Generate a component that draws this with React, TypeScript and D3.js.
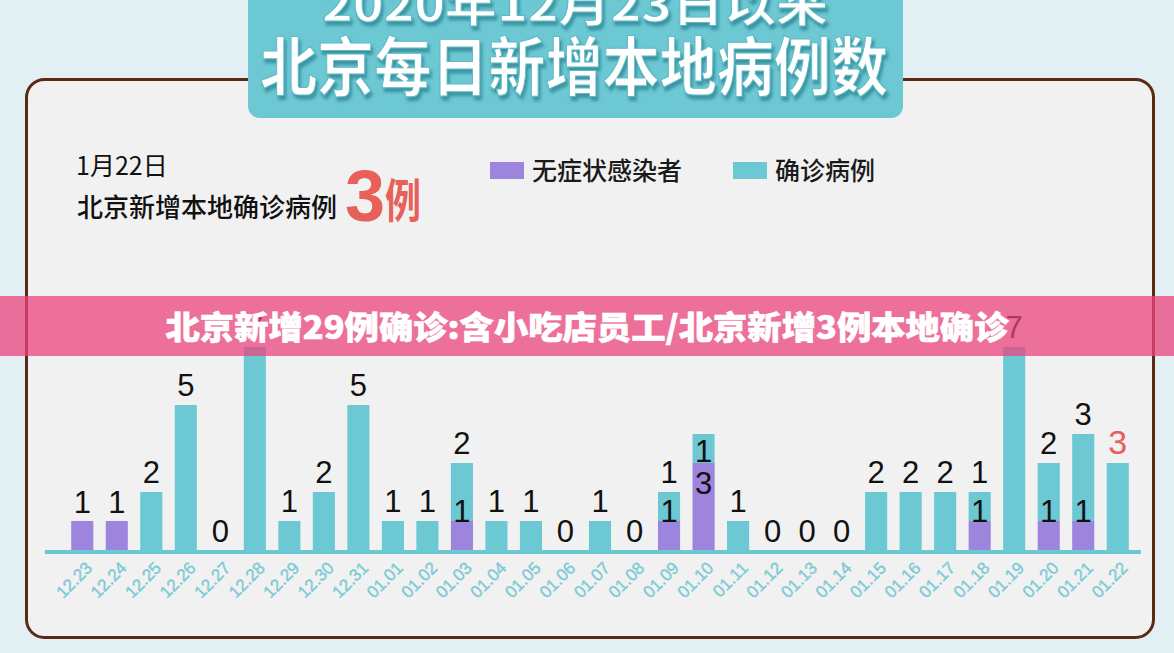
import { useEffect, useRef } from 'react'
import * as d3 from 'd3'

const dates = [
  '12.23', '12.24', '12.25', '12.26', '12.27', '12.28', '12.29', '12.30', '12.31',
  '01.01', '01.02', '01.03', '01.04', '01.05', '01.06', '01.07', '01.08', '01.09',
  '01.10', '01.11', '01.12', '01.13', '01.14', '01.15', '01.16', '01.17', '01.18',
  '01.19', '01.20', '01.21', '01.22'
]
// 无症状感染者
const asymptomatic = [1, 1, 0, 0, 0, 0, 0, 0, 0, 0, 0, 1, 0, 0, 0, 0, 0, 1, 3, 0, 0, 0, 0, 0, 0, 0, 1, 0, 1, 1, 0]
// 确诊病例
const confirmed = [0, 0, 2, 5, 0, 7, 1, 2, 5, 1, 1, 2, 1, 1, 0, 1, 0, 1, 1, 1, 0, 0, 0, 2, 2, 2, 1, 7, 2, 3, 3]

const legendItems = ['无症状感染者', '确诊病例']
const titleTop = '2020年12月23日以来'
const titleMain = '北京每日新增本地病例数'
const bannerText = '北京新增29例确诊:含小吃店员工/北京新增3例本地确诊'

const W = 1174
const H = 653
const TEAL = '#6cc8d3'
const PURPLE = '#9d84dc'
const RED = '#e8605a'
const CJK = '"Noto Sans CJK SC", "Noto Sans", sans-serif'
const NUM = '"Liberation Sans", Arial, sans-serif'

export default function App() {
  const svgRef = useRef<SVGSVGElement>(null)

  useEffect(() => {
    if (!svgRef.current) return
    const svg = d3.select(svgRef.current)
    svg.selectAll('*').remove()

    const defs = svg.append('defs')
    const f = defs.append('filter').attr('id', 'tshadow')
      .attr('x', '-10%').attr('y', '-10%').attr('width', '120%').attr('height', '130%')
    f.append('feDropShadow')
      .attr('dx', 2).attr('dy', 4).attr('stdDeviation', 1.5)
      .attr('flood-color', '#3a92a0').attr('flood-opacity', 0.95)

    // background
    svg.append('rect').attr('width', W).attr('height', H).style('fill', '#e2f0f4')

    // card
    svg.append('rect')
      .attr('x', 26.5).attr('y', 79.5)
      .attr('width', 1127).attr('height', 558)
      .attr('rx', 18)
      .style('fill', '#f1f1f1')
      .style('stroke', '#5b2a17')
      .style('stroke-width', 3)

    // title box
    svg.append('rect')
      .attr('x', 248).attr('y', -20)
      .attr('width', 655).attr('height', 138)
      .attr('rx', 12)
      .style('fill', TEAL)

    svg.append('text')
      .attr('x', 575).attr('y', 21)
      .attr('text-anchor', 'middle')
      .attr('textLength', 506).attr('lengthAdjust', 'spacingAndGlyphs')
      .attr('filter', 'url(#tshadow)')
      .style('fill', '#fff')
      .style('stroke', '#5cb9c5').style('stroke-width', 1)
      .style('font-family', CJK).style('font-weight', 700)
      .style('font-size', '46px')
      .text(titleTop)

    svg.append('text')
      .attr('x', 574).attr('y', 90)
      .attr('text-anchor', 'middle')
      .attr('textLength', 628).attr('lengthAdjust', 'spacingAndGlyphs')
      .attr('filter', 'url(#tshadow)')
      .style('fill', '#fff')
      .style('stroke', '#5cb9c5').style('stroke-width', 1)
      .style('font-family', CJK).style('font-weight', 700)
      .style('font-size', '64px')
      .text(titleMain)

    // headline
    svg.append('text')
      .attr('x', 76).attr('y', 175)
      .style('fill', '#111').style('font-family', CJK).style('font-size', '25px')
      .text('1月22日')
    svg.append('text')
      .attr('x', 77).attr('y', 217)
      .attr('textLength', 260).attr('lengthAdjust', 'spacingAndGlyphs')
      .style('fill', '#111').style('font-family', CJK).style('font-size', '26px')
      .style('font-weight', 500)
      .text('北京新增本地确诊病例')
    svg.append('text')
      .attr('x', 345).attr('y', 221)
      .style('fill', RED).style('font-family', NUM).style('font-size', '72px')
      .style('font-weight', 700)
      .text('3')
    svg.append('text')
      .attr('x', 385).attr('y', 217)
      .attr('textLength', 36).attr('lengthAdjust', 'spacingAndGlyphs')
      .style('fill', RED).style('font-family', CJK).style('font-size', '46px')
      .style('font-weight', 700)
      .text('例')

    // legend
    const legendColors = [PURPLE, TEAL]
    const legendX = [490, 733]
    legendItems.forEach((name, i) => {
      svg.append('rect')
        .attr('x', legendX[i]).attr('y', 162)
        .attr('width', 34).attr('height', 17)
        .style('fill', legendColors[i])
      svg.append('text')
        .attr('x', legendX[i] + 42).attr('y', 180)
        .style('fill', '#1a1a1a').style('font-family', CJK).style('font-size', '25px')
        .style('font-weight', 500)
        .text(name)
    })

    // chart
    const x = d3.scaleBand<string>()
      .domain(dates)
      .range([65, 1135])
      .paddingInner(0.36)
      .paddingOuter(0.18)
    const y = d3.scaleLinear()
      .domain([0, 7])
      .range([550, 347])

    const g = svg.append('g')
    const data = dates.map((d, i) => ({ date: d, a: asymptomatic[i], c: confirmed[i], i }))

    g.selectAll('rect.asym')
      .data(data.filter(d => d.a > 0))
      .join('rect')
      .attr('class', 'asym')
      .attr('x', d => x(d.date)!)
      .attr('width', x.bandwidth())
      .attr('y', d => y(d.a))
      .attr('height', d => y(0) - y(d.a))
      .style('fill', PURPLE)

    g.selectAll('rect.conf')
      .data(data.filter(d => d.c > 0))
      .join('rect')
      .attr('class', 'conf')
      .attr('x', d => x(d.date)!)
      .attr('width', x.bandwidth())
      .attr('y', d => y(d.a + d.c))
      .attr('height', d => y(d.a) - y(d.a + d.c))
      .style('fill', TEAL)

    // axis line
    g.append('rect')
      .attr('x', 45).attr('y', y(0))
      .attr('width', 1096).attr('height', 4)
      .style('fill', TEAL)

    // value labels
    const addLabel = (cx: number, yy: number, txt: string, color = '#111', size = 31) => {
      g.append('text')
        .attr('x', cx).attr('y', yy)
        .attr('text-anchor', 'middle')
        .style('fill', color)
        .style('font-family', NUM)
        .style('font-size', `${size}px`)
        .text(txt)
    }
    data.forEach(d => {
      const cx = x(d.date)! + x.bandwidth() / 2
      const last = d.i === data.length - 1
      if (d.a === 0 && d.c === 0) {
        addLabel(cx, y(0) - 8, '0')
        return
      }
      const inside = d.a > 1
      if (d.c > 0) {
        const top = y(d.a + d.c)
        addLabel(cx, inside ? top + 28 : top - 9, String(d.c), last ? RED : '#111', last ? 34 : 31)
      }
      if (d.a > 0) {
        const top = y(d.a)
        const yy = inside ? top + 31 : d.c > 0 ? top + 1 : top - 8
        addLabel(cx, yy, String(d.a))
      }
    })

    // x tick labels
    dates.forEach(d => {
      const cx = x(d)! + x.bandwidth() / 2 + 11
      const cy = 569
      g.append('text')
        .attr('transform', `translate(${cx},${cy}) rotate(-45)`)
        .attr('text-anchor', 'end')
        .style('fill', '#7ccbd5')
        .style('stroke', '#7ccbd5').style('stroke-width', 0.4)
        .style('font-family', NUM)
        .style('font-size', '17px')
        .text(d)
    })

    // pink banner overlay
    svg.append('rect')
      .attr('x', 0).attr('y', 296)
      .attr('width', W).attr('height', 60)
      .style('fill', 'rgb(235,68,125)')
      .style('opacity', 0.75)
    svg.append('text')
      .attr('x', 587).attr('y', 339)
      .attr('text-anchor', 'middle')
      .attr('textLength', 843).attr('lengthAdjust', 'spacingAndGlyphs')
      .style('fill', '#fff')
      .style('stroke', '#fff').style('stroke-width', 0.6)
      .style('font-family', CJK).style('font-weight', 900)
      .style('font-size', '32px')
      .text(bannerText)
  }, [])

  return (
    <svg
      ref={svgRef}
      width={W}
      height={H}
      style={{ position: 'absolute', left: 0, top: 0, display: 'block' }}
    />
  )
}
